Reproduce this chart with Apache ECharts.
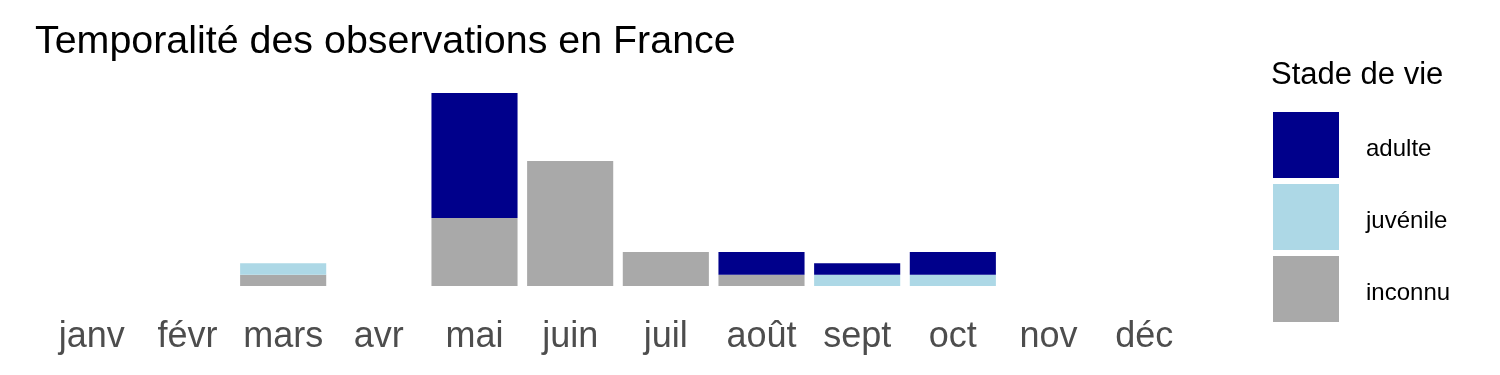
<!DOCTYPE html>
<html>
<head>
<meta charset="utf-8">
<script src="https://cdn.jsdelivr.net/npm/echarts@6/dist/echarts.min.js"></script>
<style>html,body{margin:0;padding:0;background:#fff;}#c{width:1500px;height:375px;}</style>
</head>
<body>
<div id="c"></div>
<script>
const months = ['janv','févr','mars','avr','mai','juin','juil','août','sept','oct','nov','déc'];
const inconnu  = [0,0,1,0,6,11,3,1,0,0,0,0];
const juvenile = [0,0,1,0,0,0,0,0,1,1,0,0];
const adulte   = [0,0,0,0,11,0,0,2,1,2,0,0];
const legendOrder = ['adulte','juvénile','inconnu'];

const FONT = '"Liberation Sans", Arial, sans-serif';
const chart = echarts.init(document.getElementById('c'), null, {renderer:'canvas'});
chart.setOption({
  animation: false,
  backgroundColor: '#ffffff',
  title: [
    {text: 'Temporalité des observations en France', left: 35, top: 23, padding: 0,
     textStyle: {fontFamily: FONT, fontSize: 39.4, fontWeight: 'normal', color: '#000'}},
    {text: 'Stade de vie', left: 1271, top: 60, padding: 0,
     textStyle: {fontFamily: FONT, fontSize: 31, fontWeight: 'normal', color: '#000'}}
  ],
  legend: {
    data: legendOrder, orient: 'vertical', left: 1273, top: 112, padding: 0,
    itemWidth: 66, itemHeight: 66, itemGap: 6, icon: 'rect',
    formatter: '{t|{name}}',
    textStyle: {fontFamily: FONT, fontSize: 24, color: '#000',
      rich: {t: {fontFamily: FONT, fontSize: 24, color: '#000', padding: [8,0,0,22]}}},
    selectedMode: false
  },
  grid: {left: 44, right: 308, top: 93, bottom: 89, containLabel: false},
  xAxis: {
    type: 'category', data: months,
    axisLine: {show: false}, axisTick: {show: false}, splitLine: {show: false},
    axisLabel: {fontFamily: FONT, fontSize: 36, color: '#4D4D4D', margin: 33, interval: 0}
  },
  yAxis: {
    type: 'value', min: 0, max: 17, show: false, splitLine: {show: false}
  },
  series: [
    {name: 'inconnu', type: 'bar', stack: 's', data: inconnu, barCategoryGap: '10%', itemStyle: {color: '#A9A9A9'}},
    {name: 'juvénile', type: 'bar', stack: 's', data: juvenile, barCategoryGap: '10%', itemStyle: {color: '#ADD8E6'}},
    {name: 'adulte', type: 'bar', stack: 's', data: adulte, barCategoryGap: '10%', itemStyle: {color: '#00008B'}}
  ]
});
</script>
</body>
</html>
